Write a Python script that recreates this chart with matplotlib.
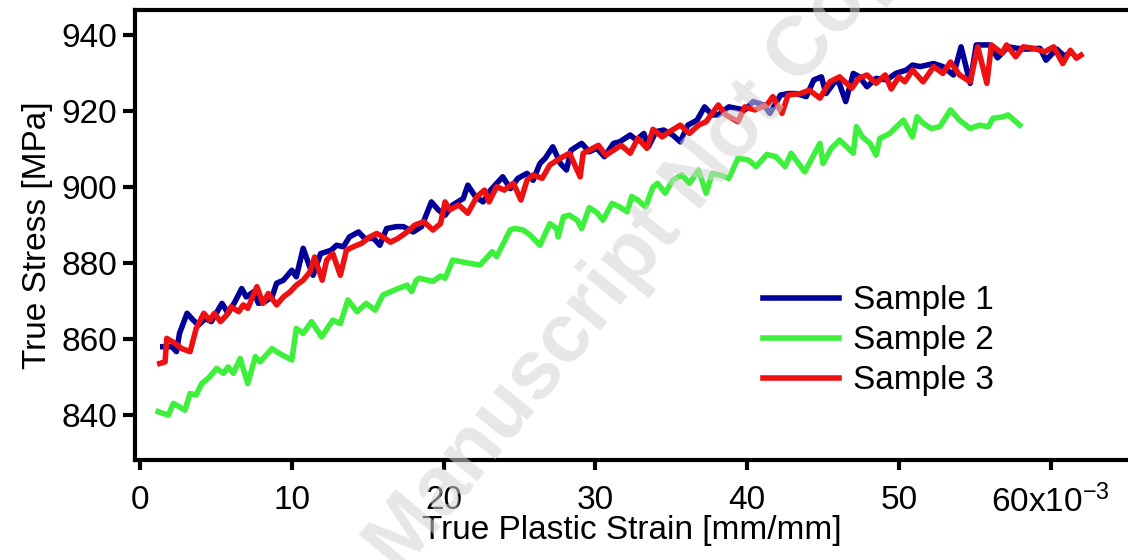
import matplotlib
matplotlib.use("Agg")
import matplotlib.pyplot as plt

plt.rcParams['font.family'] = ['Liberation Sans', 'DejaVu Sans']
plt.rcParams['mathtext.default'] = 'regular'

# true plastic strain (x1e-3) and true stress [MPa]
s1_strain = [1.5, 2.1, 2.4, 2.6, 3.1, 3.5, 3.85, 4.3, 4.7, 5.4, 5.8, 6.25, 6.7, 7.0, 7.5, 7.8,
             8.2, 8.7, 9.0, 9.45, 10.0, 10.3, 10.75, 11.1, 11.4, 11.9, 12.3, 12.6, 12.95, 13.4,
             13.8, 14.4, 14.8, 15.4, 15.8, 16.25, 16.9, 17.35, 18.0, 18.55, 19.2, 19.65, 20.1,
             20.6, 21.3, 21.6, 22.1, 22.6, 23.1, 23.6, 23.9, 24.4, 24.9, 25.5, 25.9, 26.35,
             26.7, 27.2, 27.7, 28.1, 28.4, 29.1, 29.6, 30.1, 30.6, 31.2, 31.6, 32.3, 32.7,
             33.2, 33.5, 34.0, 34.5, 35.1, 35.6, 36.1, 36.7, 37.2, 37.7, 38.1, 38.8, 39.3,
             39.85, 40.4, 41.1, 41.5, 42.2, 42.7, 43.25, 43.9, 44.4, 44.9, 45.2, 45.7, 46.0,
             46.5, 47.0, 47.4, 47.9, 48.5, 49.2, 49.8, 50.5, 50.9, 51.4, 52.3, 52.9, 53.6,
             54.1, 54.7, 55.1, 56.0, 56.5, 57.2, 57.8, 58.4, 59.3, 59.7, 60.4, 60.9, 61.3]
s1_stress = [858, 858, 856.7, 861.5, 866.8, 865, 863.7, 865.4, 864.6, 869.4, 866.8, 869.8,
             873.3, 871.1, 872.5, 869.4, 869.8, 871.1, 874.7, 875.5, 878.1, 876.4, 883.9,
             879.9, 876.8, 882.5, 883, 883.4, 884.7, 884.3, 886.9, 888.2, 886.5, 886.5, 884.7,
             889.1, 889.6, 889.6, 888.2, 889.6, 896.1, 894, 892.6, 895.3, 897, 900.5, 897.5,
             896.1, 899.2, 901.4, 902.7, 899.6, 902.3, 903.6, 901.8, 906.2, 907.6, 910.6,
             906.2, 904.5, 909.7, 911.5, 909.3, 910.2, 908, 911.5, 911.9, 913.7, 912.4, 914.1,
             910.6, 914.6, 915, 913.7, 911.9, 916.3, 917.6, 921.1, 919, 919, 921.1, 920.7,
             920.3, 922.5, 921.6, 919.4, 924.2, 924.6, 924.6, 923.8, 928.2, 929, 924.6, 927.3,
             928.2, 922.5, 929.9, 929, 926.4, 928.6, 928.2, 929.9, 930.8, 932.1, 931.7, 932.5,
             931.7, 929.5, 936.9, 927.3, 937.4, 937.4, 934, 936.9, 936.5, 936.3, 936.5, 933.4,
             936.3, 934.5, 935.3]

s2_strain = [1.2, 1.87, 2.2, 2.96, 3.3, 3.7, 4.06, 4.5, 5.05, 5.5, 5.8, 6.15, 6.6, 7.1, 7.6,
             7.9, 8.7, 9.2, 10.0, 10.3, 10.75, 11.3, 11.97, 12.7, 13.2, 13.7, 14.3, 14.9, 15.5,
             16.0, 17.0, 17.6, 17.9, 18.2, 18.4, 19.3, 19.8, 20.1, 20.6, 21.5, 22.4, 22.8,
             23.2, 23.5, 24.4, 24.7, 25.25, 25.7, 26.35, 27.0, 27.45, 27.55, 27.9, 28.3, 28.8,
             29.1, 29.6, 30.1, 30.5, 31.1, 31.6, 32.1, 32.4, 32.8, 33.3, 33.8, 34.1, 34.6,
             35.1, 35.7, 36.2, 36.8, 37.3, 37.7, 38.2, 38.8, 39.4, 40.1, 40.6, 41.3, 41.9,
             42.5, 42.9, 43.8, 44.8, 45.0, 45.55, 46.1, 47.0, 47.2, 47.6, 48.1, 48.5, 48.75,
             49.4, 49.85, 50.3, 50.9, 51.2, 51.6, 52.15, 52.7, 53.4, 54.0, 54.7, 55.3, 55.9,
             56.2, 56.9, 57.2, 57.97]
s2_stress = [840.9, 840.0, 843.1, 841.3, 845.7, 845.3, 848.3, 849.7, 852.3, 851, 852.7, 851,
             854.9, 848.3, 855.4, 854, 857.5, 856.2, 854.5, 862.8, 861.5, 864.6, 860.6, 865,
             864.1, 870.3, 867.2, 869.4, 867.6, 871.6, 873.3, 874.2, 872.5, 875.5, 876, 875.2,
             876.6, 876, 880.8, 880.1, 879.5, 881.2, 883, 881.7, 888.8, 889.1, 888.7, 887.4,
             884.7, 890.4, 889.1, 886.9, 892.2, 892.6, 891.3, 889.1, 894.6, 893.3, 891.3,
             895.7, 894.8, 893.5, 897.5, 896.6, 894.8, 900, 901, 898.4, 901.8, 903.2, 901,
             904.5, 898.4, 903.6, 903.2, 902.3, 907.6, 907.1, 905.4, 908.6, 908, 905.4, 908.9,
             904, 911.5, 906.2, 910.2, 912.4, 908.9, 915.9, 913.2, 911.5, 908.4, 912.8, 914.1,
             915.9, 917.6, 913.2, 918.5, 916.8, 915.4, 915.9, 920.3, 917.6, 915.4, 916.3,
             915.9, 918.1, 918.5, 919, 916.3]

s3_strain = [1.3, 1.65, 1.76, 2.3, 2.75, 3.3, 3.7, 4.2, 4.6, 4.9, 5.3, 5.7, 6.0, 6.5, 6.8, 7.1,
             7.7, 8.1, 8.45, 9.0, 9.45, 9.9, 10.3, 10.75, 11.2, 11.5, 12.0, 12.3, 12.7, 13.2,
             13.6, 14.05, 14.6, 15.15, 15.6, 16.0, 16.5, 17.0, 17.6, 18.1, 18.7, 19.3, 19.8,
             20.1, 20.4, 21.0, 21.6, 22.2, 22.7, 23.0, 23.5, 24.0, 24.6, 25.1, 25.5, 25.9,
             26.5, 27.0, 27.7, 28.3, 29.0, 29.2, 29.6, 30.2, 30.7, 31.2, 31.7, 32.3, 32.8,
             33.4, 33.8, 34.4, 34.9, 35.6, 36.2, 36.8, 37.3, 38.1, 38.6, 39.4, 39.85, 40.5,
             41.3, 41.7, 42.3, 42.7, 43.5, 44.1, 44.8, 45.45, 46.1, 46.9, 47.35, 47.9, 48.5,
             49.1, 49.5, 50.0, 50.4, 50.9, 51.6, 52.3, 52.9, 53.4, 54.0, 54.7, 55.2, 55.8,
             56.1, 56.8, 57.1, 57.7, 58.2, 58.9, 59.6, 60.2, 60.8, 61.3, 61.7, 62.0]
s3_stress = [853.6, 854, 860.2, 858.9, 857.5, 856.7, 862.8, 866.8, 865, 866.8, 864.6, 866.3,
             868.5, 867.2, 869, 868.1, 873.8, 869.4, 872, 869, 871.1, 872.5, 874.2, 875.5,
             877.7, 881.6, 875.5, 880.8, 882.5, 876.8, 883.4, 884.3, 885.2, 886.9, 887.8,
             886.9, 885.5, 886.5, 888.2, 890, 890.9, 888.7, 890.4, 896.1, 894, 895.3, 893.1,
             897.5, 899.2, 896.1, 900.1, 899.2, 901, 896.6, 901.8, 903.2, 902.3, 905.8, 907.6,
             908.9, 902.7, 908.9, 909.7, 911, 908.4, 909.7, 911, 908.9, 912.8, 910.2, 915.2,
             913.2, 914.6, 916.3, 914.1, 916.3, 917.2, 921.6, 919, 917.2, 921.1, 920.3, 921.6,
             923.8, 919.4, 924.2, 924.6, 925.5, 923.4, 927.7, 929, 926, 928.6, 929.5, 927.3,
             929.5, 925.8, 929, 927.7, 930.8, 927.7, 931.7, 929.9, 932.9, 929.5, 927.7, 936.9,
             927.3, 937.4, 935.2, 937.4, 934.3, 936.9, 936.5, 935.6, 936.9, 932.5, 936, 933.9,
             934.7]

x_ticks = [0, 10, 20, 30, 40, 50, 60]
x_labels = ['0', '10', '20', '30', '40', '50', '60x10$^{-3}$']
y_ticks = [840, 860, 880, 900, 920, 940]

fig = plt.figure(figsize=(11.28, 5.6), dpi=100)
ax = fig.add_axes([0.1197, 0.1786, 0.8803, 0.8036])

ax.plot(s1_strain, s1_stress, color='#000099', lw=4, label='Sample 1', solid_joinstyle='round')
ax.plot(s2_strain, s2_stress, color='#3CF03C', lw=4, label='Sample 2', solid_joinstyle='round')
ax.plot(s3_strain, s3_stress, color='#EE1111', lw=4, label='Sample 3', solid_joinstyle='round')

ax.set_xlim(-0.33, 65.1)
ax.set_ylim(828.2, 946.6)
ax.set_xticks(x_ticks)
ax.set_xticklabels(x_labels)
ax.set_yticks(y_ticks)

for side in ['left', 'bottom', 'top']:
    ax.spines[side].set_linewidth(3)
ax.spines['right'].set_visible(False)
ax.tick_params(axis='x', direction='out', length=7, width=3, pad=11, labelsize=24)
ax.tick_params(axis='y', direction='out', length=9, width=3, pad=4, labelsize=24)

ax.set_xlabel('True Plastic Strain [mm/mm]', fontsize=24, labelpad=-3)
ax.set_ylabel('True Stress [MPa]', fontsize=24, labelpad=6)

ax.legend(loc='upper left', bbox_to_anchor=(0.632, 0.388), frameon=False, fontsize=24,
          handlelength=2.3, handletextpad=0.42, labelspacing=0.27, borderpad=0,
          borderaxespad=0)

# faint watermark across the plot
fig.text(401 / 1128, 1 - 575 / 560, 'Manuscript Not Copyedited', fontsize=60,
         fontweight='bold', color='#D4D4D4', alpha=0.55, rotation=50.7,
         rotation_mode='anchor', ha='left', va='baseline', zorder=10)

fig.savefig('out.png', dpi=100)
